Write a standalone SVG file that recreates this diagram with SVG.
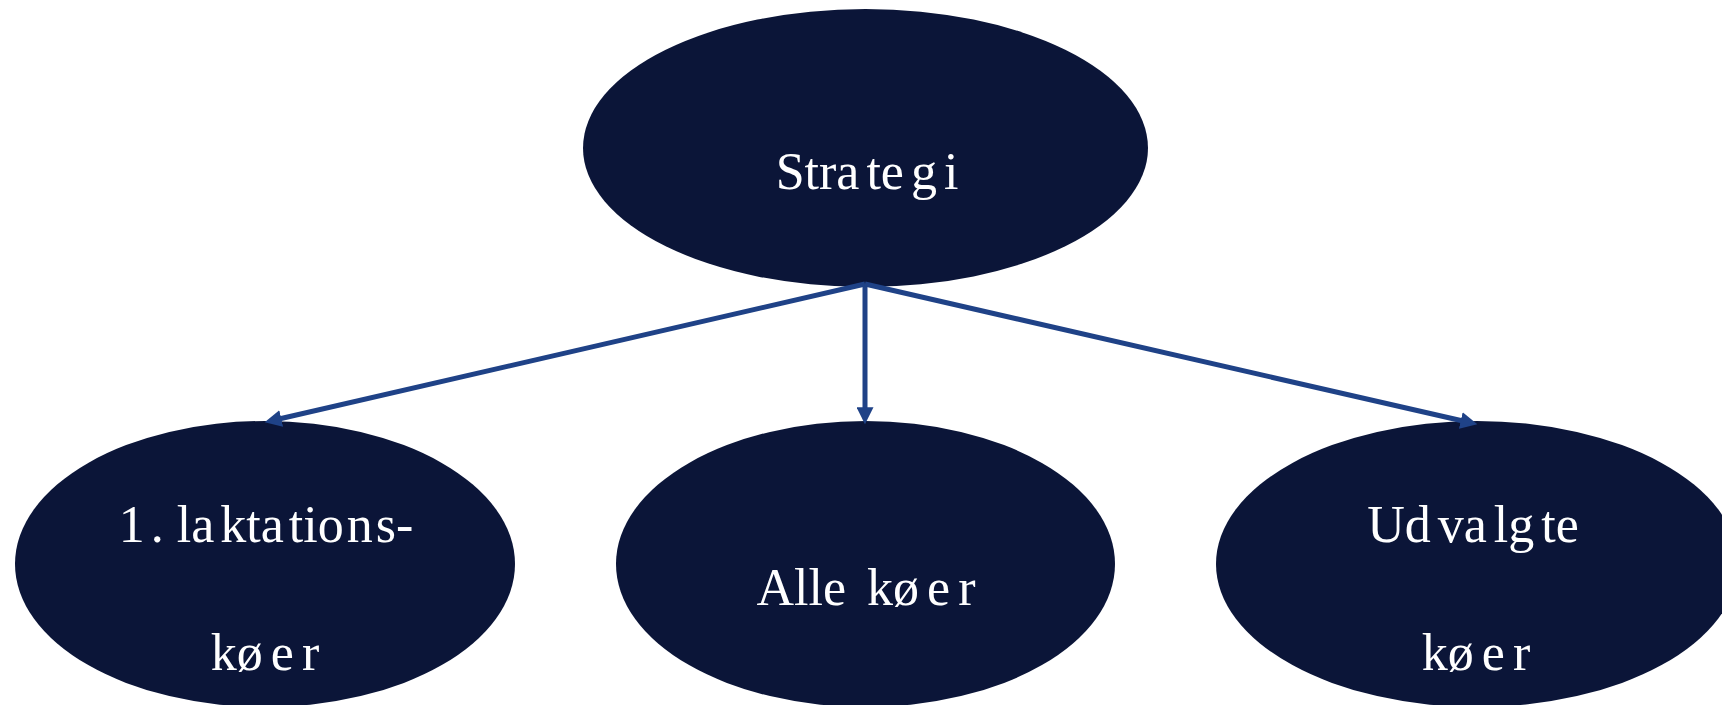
<svg xmlns="http://www.w3.org/2000/svg" width="1722" height="705" viewBox="0 0 1722 705">
  <style>
    .node { fill: #0B1538; }
    .lbl { font-family: "Liberation Serif", "Times New Roman", serif; font-size: 52px; fill: #FFFFFF; text-anchor: middle; }
    .conn { stroke: #1F4287; stroke-width: 5; fill: none; }
  </style>
  <defs>
    <marker id="arrow" markerUnits="userSpaceOnUse" markerWidth="17" markerHeight="17" viewBox="0 0 15 15" refX="5" refY="7.5" orient="auto">
      <path d="M0,0 L15,7.5 L0,15 z" fill="#1F4287"/>
    </marker>
  </defs>
  <rect x="0" y="0" width="1722" height="705" fill="#FFFFFF"/>

  <g id="node-strategi">
    <ellipse class="node" cx="865.5" cy="148" rx="282.5" ry="139"/>
    <text class="lbl" x="867" y="189">Stra<tspan dx="7">te</tspan><tspan dx="7">g</tspan><tspan dx="7">i</tspan></text>
  </g>

  <g id="node-laktation">
    <ellipse class="node" cx="265" cy="564" rx="250" ry="143"/>
    <text class="lbl" x="266" y="542">1<tspan dx="6">.</tspan> la<tspan dx="6">kta</tspan><tspan dx="5">tio</tspan><tspan dx="3">n</tspan><tspan dx="3">s-</tspan></text>
    <text class="lbl" x="265" y="670">kø<tspan dx="8">e</tspan><tspan dx="8">r</tspan></text>
  </g>

  <g id="node-alle">
    <ellipse class="node" cx="865.5" cy="564" rx="249.5" ry="143"/>
    <text class="lbl" x="866" y="605">Alle <tspan dx="8">kø</tspan><tspan dx="8">e</tspan><tspan dx="8">r</tspan></text>
  </g>

  <g id="node-udvalgte">
    <ellipse class="node" cx="1477" cy="564" rx="261" ry="143"/>
    <text class="lbl" x="1473" y="542">Ud<tspan dx="7">va</tspan><tspan dx="7">lg</tspan><tspan dx="7">te</tspan></text>
    <text class="lbl" x="1476" y="670">kø<tspan dx="8">e</tspan><tspan dx="8">r</tspan></text>
  </g>

  <g id="connectors">
    <line class="conn" x1="865" y1="284" x2="275.7" y2="419.8" marker-end="url(#arrow)"/>
    <line class="conn" x1="865" y1="284" x2="865" y2="413" marker-end="url(#arrow)"/>
    <line class="conn" x1="865" y1="284" x2="1466.3" y2="421.8" marker-end="url(#arrow)"/>
  </g>
</svg>
